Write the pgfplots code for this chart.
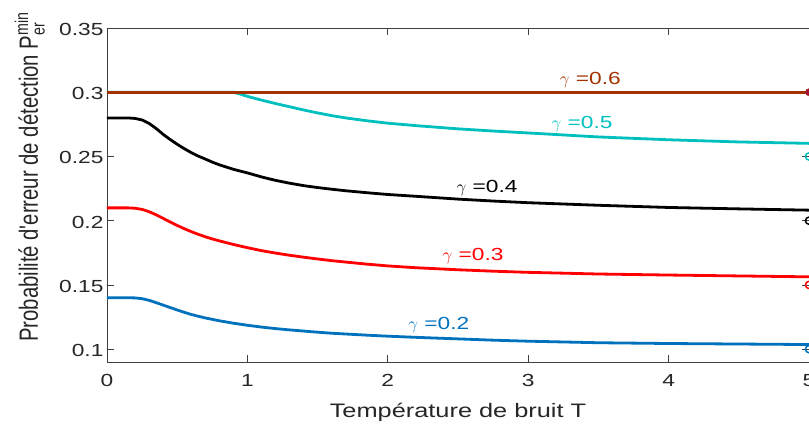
\documentclass[border=0pt]{standalone}
\usepackage{fontspec}
\usepackage{amsmath}
\usepackage{graphicx}
\usepackage{pgfplots}
\pgfplotsset{compat=1.18}
\setmainfont{Liberation Sans}[FakeStretch=1.3]
\newfontfamily\ylabfont{Liberation Sans}[Ligatures=TeXOff]
\definecolor{cBrown}{RGB}{163,50,0}
\definecolor{cCyan}{RGB}{0,191,191}
\definecolor{cBlue}{RGB}{0,114,189}
\definecolor{cCrimson}{RGB}{162,20,47}
\definecolor{cAxis}{RGB}{64,64,64}
\newcommand{\tfont}{\fontsize{17.5}{21}\selectfont}
\begin{document}
\begin{tikzpicture}
\begin{axis}[
  scale only axis, width=702pt, height=334pt,
  xmin=0, xmax=5, ymin=0.09, ymax=0.35,
  xtick={0,1,2,3,4,5}, xticklabels={0,1,2,3,4,5},
  ytick={0.1,0.15,0.2,0.25,0.3,0.35},
  yticklabels={0.1,0.15,0.2,0.25,0.3,0.35},
  /pgf/number format/assume math mode=true,
  tick align=inside, major tick length=7pt,
  axis line style={cAxis, line width=0.8pt},
  tick style={cAxis, line width=0.8pt},
  ticklabel style={font=\tfont, text=black!85},
  xticklabel style={yshift=-9pt},
  yticklabel style={yshift=-1.5pt},
  xlabel={Température de bruit T},
  xlabel style={font=\fontsize{19.5}{23}\selectfont, text=black!85, at={(axis description cs:0.5,-0.1647)}, anchor=base},
  ylabel={\ylabfont\fontsize{20.3}{24}\selectfont\scalebox{1}[1.3]{Probabilité d'erreur de détection P$^{\text{min}}_{\text{er}}$}},
  ylabel style={text=black!85, at={(axis description cs:-0.0983,0.554)}, anchor=base},
  curve/.style={line width=2.8pt, line join=round, line cap=round},
]
% gamma = 0.2
\addplot[cBlue, curve] coordinates {
(0,0.140) (0.15,0.1400) (0.2,0.1399) (0.25,0.1393) (0.3,0.1380) (0.35,0.1362) (0.4,0.1343)
(0.45,0.1324) (0.5,0.1305) (0.55,0.1287) (0.6,0.1270) (0.65,0.1256) (0.7,0.1243)
(0.75,0.1232) (0.8,0.1221) (0.9,0.1202) (1.0,0.1186) (1.1,0.1172) (1.2,0.1160)
(1.3,0.1150) (1.4,0.1141) (1.5,0.1132) (1.6,0.1124) (1.7,0.1118) (1.85,0.1109)
(2.0,0.1101) (2.2,0.1092) (2.5,0.1080) (2.75,0.1070) (3.0,0.1062) (3.5,0.1050)
(4.0,0.1044) (4.5,0.1040) (5.0,0.1036)};
% gamma = 0.3
\addplot[red, curve] coordinates {
(0,0.210) (0.15,0.2100) (0.2,0.2097) (0.25,0.2088) (0.3,0.2070) (0.35,0.2046) (0.4,0.2018)
(0.45,0.1990) (0.5,0.1963) (0.55,0.1938) (0.6,0.1915) (0.65,0.1894) (0.7,0.1875)
(0.75,0.1858) (0.8,0.1843) (0.9,0.1815) (1.0,0.1790) (1.1,0.1767) (1.2,0.1748)
(1.3,0.1731) (1.4,0.1716) (1.5,0.1702) (1.6,0.1689) (1.7,0.1678) (1.85,0.1662)
(2.0,0.1648) (2.2,0.1634) (2.5,0.1618) (2.75,0.1607) (3.0,0.1598) (3.5,0.1585)
(4.0,0.1577) (4.5,0.1570) (5.0,0.1563)};
% gamma = 0.4
\addplot[black, curve] coordinates {
(0,0.280) (0.15,0.2800) (0.2,0.2796) (0.25,0.2784) (0.3,0.2757) (0.35,0.2718) (0.4,0.2672)
(0.45,0.2632) (0.5,0.2595) (0.55,0.2561) (0.6,0.2530) (0.65,0.2503) (0.7,0.2480)
(0.75,0.2456) (0.8,0.2435) (0.9,0.2400) (1.0,0.2372) (1.1,0.2341) (1.2,0.2314)
(1.3,0.2292) (1.4,0.2273) (1.5,0.2258) (1.6,0.2245) (1.7,0.2233) (1.85,0.2218)
(2.0,0.2204) (2.2,0.2190) (2.5,0.2168) (2.75,0.2153) (3.0,0.2140) (3.5,0.2120)
(4.0,0.2103) (4.5,0.2092) (5.0,0.2082)};
% gamma = 0.5
\addplot[cCyan, curve] coordinates {
(0,0.300) (0.90,0.3000) (0.95,0.2985) (1.0,0.2968) (1.05,0.2953) (1.1,0.2939)
(1.2,0.2912) (1.3,0.2887) (1.4,0.2862) (1.5,0.2839) (1.6,0.2818) (1.7,0.2800)
(1.85,0.2778) (2.0,0.2759) (2.2,0.2740) (2.5,0.2715) (2.75,0.2698) (3.0,0.2683)
(3.5,0.2652) (4.0,0.2630) (4.5,0.2613) (5.0,0.2602)};
% gamma = 0.6
\addplot[cBrown, line width=2.8pt] coordinates {(0,0.300) (5,0.300)};
% limit markers
\addplot[only marks, mark=o, mark size=3.6pt, cBlue, line width=1.5pt] coordinates {(5,0.10)};
\addplot[only marks, mark=o, mark size=3.6pt, red, line width=1.5pt] coordinates {(5,0.15)};
\addplot[only marks, mark=o, mark size=3.6pt, black, line width=1.5pt] coordinates {(5,0.20)};
\addplot[only marks, mark=o, mark size=3.6pt, cCyan, line width=1.5pt] coordinates {(5,0.25)};
\addplot[only marks, mark=*, mark size=3.6pt, cCrimson, fill=cCrimson] coordinates {(5,0.30)};
% labels
\node[text=cBrown, font=\tfont, anchor=base west, inner sep=0pt] at (axis cs:3.224,0.3064) {$\gamma$ =0.6};
\node[text=cCyan, font=\tfont, anchor=base west, inner sep=0pt] at (axis cs:3.165,0.2719) {$\gamma$ =0.5};
\node[text=black, font=\tfont, anchor=base west, inner sep=0pt] at (axis cs:2.489,0.2220) {$\gamma$ =0.4};
\node[text=red, font=\tfont, anchor=base west, inner sep=0pt] at (axis cs:2.389,0.1693) {$\gamma$ =0.3};
\node[text=cBlue, font=\tfont, anchor=base west, inner sep=0pt] at (axis cs:2.145,0.1153) {$\gamma$ =0.2};
\end{axis}
\pgfresetboundingbox
\path[use as bounding box] ([xshift=-107pt,yshift=-67pt]current axis.south west) rectangle ([yshift=28pt]current axis.north east);
\end{tikzpicture}
\end{document}
